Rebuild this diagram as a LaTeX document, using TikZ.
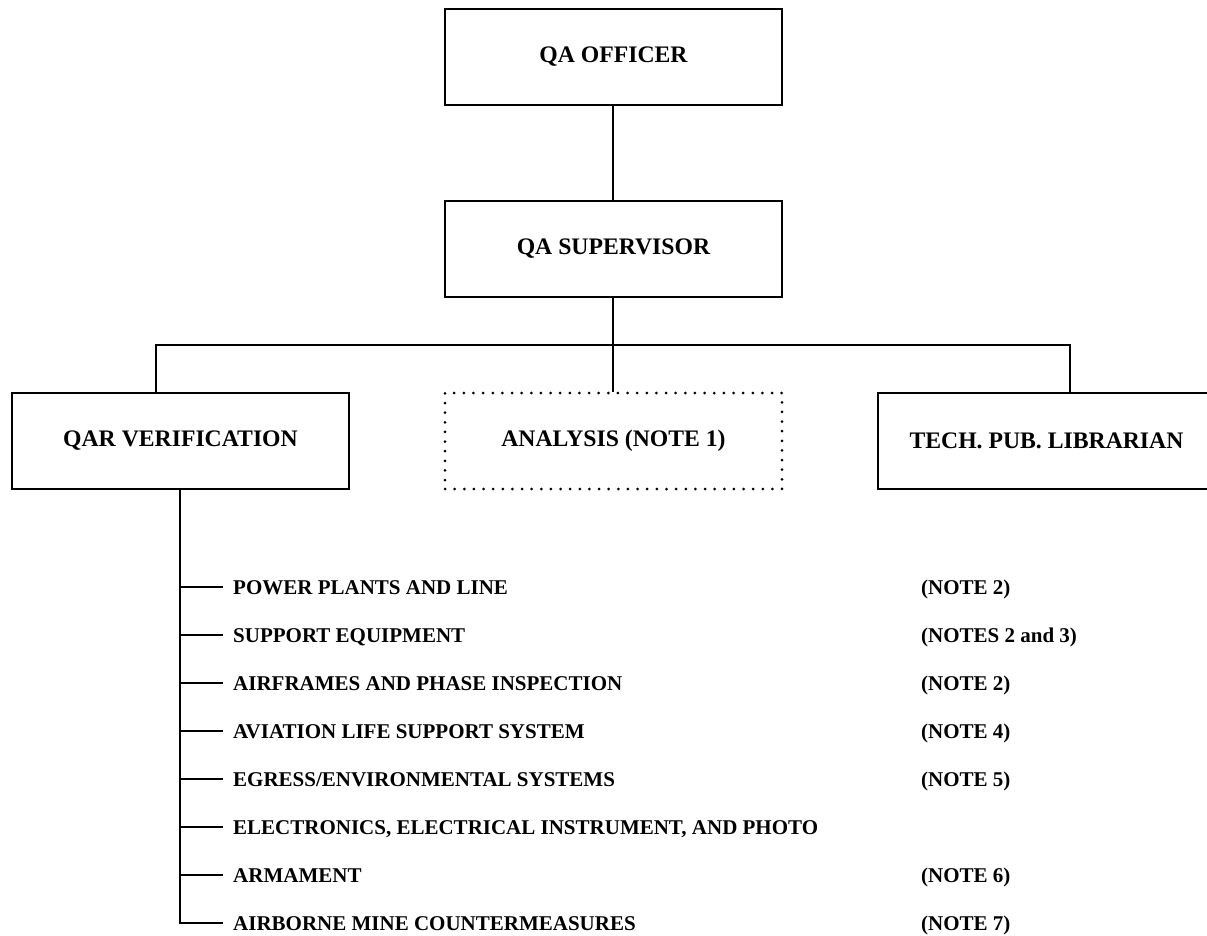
\documentclass[tikz,border=0pt]{standalone}
\usepackage{fontspec}
\setmainfont{Liberation Serif}
\begin{document}
\begin{tikzpicture}[x=1pt,y=-1pt,
  box/.style={draw, line width=1.8pt, minimum width=337pt, minimum height=96pt, inner sep=0pt,
    font=\fontsize{23.7}{28}\selectfont\bfseries},
  dotbox/.style={box, line width=3pt, dash pattern=on 0pt off 9.63pt, line cap=round},
  conn/.style={line width=1.8pt},
  item/.style={anchor=west, inner xsep=10pt, inner ysep=0pt, text height=14pt, text depth=0pt,
    font=\fontsize{21}{25}\selectfont\bfseries}]
\clip (0,0) rectangle (1207,936);
\node[box] (off) at (613.5,57) {QA OFFICER};
\node[box] (sup) at (613.5,249) {QA SUPERVISOR};
\node[box] (qar) at (180.5,441) {QAR VERIFICATION};
\node[dotbox] (ana) at (613.5,441) {ANALYSIS (NOTE 1)};
\node[box] (tech) at (1046.5,441) {TECH. PUB. LIBRARIAN};
\coordinate (bus) at (613,345);
\coordinate (bl) at (156,345);
\coordinate (br) at (1070,345);
\draw[conn] (bus |- off.south) -- (bus |- sup.north);
\draw[conn] (bus |- sup.south) -- (bus);
\draw[conn] (bl |- qar.north) -- (bl) -- (br) -- (br |- tech.north);
\draw[conn] (bus) -- (bus |- ana.north);
% list items
\node[item] (i1) at (223,587) {POWER PLANTS AND LINE};
\node[item] (i2) at (223,635) {SUPPORT EQUIPMENT};
\node[item] (i3) at (223,683) {AIRFRAMES AND PHASE INSPECTION};
\node[item] (i4) at (223,731) {AVIATION LIFE SUPPORT SYSTEM};
\node[item] (i5) at (223,779) {EGRESS/ENVIRONMENTAL SYSTEMS};
\node[item] (i6) at (223,827) {ELECTRONICS, ELECTRICAL INSTRUMENT, AND PHOTO};
\node[item] (i7) at (223,875) {ARMAMENT};
\node[item] (i8) at (223,923) {AIRBORNE MINE COUNTERMEASURES};
\node[item] (n1) at (911,587) {(NOTE 2)};
\node[item] (n2) at (911,635) {(NOTES 2 and 3)};
\node[item] (n3) at (911,683) {(NOTE 2)};
\node[item] (n4) at (911,731) {(NOTE 4)};
\node[item] (n5) at (911,779) {(NOTE 5)};
\node[item] (n7) at (911,875) {(NOTE 6)};
\node[item] (n8) at (911,923) {(NOTE 7)};
\coordinate (s1) at (180,587);
\coordinate (s2) at (180,635);
\coordinate (s3) at (180,683);
\coordinate (s4) at (180,731);
\coordinate (s5) at (180,779);
\coordinate (s6) at (180,827);
\coordinate (s7) at (180,875);
\coordinate (s8) at (180,923);
\draw[conn] (s8 |- qar.south) -- (s8) -- (i8.west);
\draw[conn] (s1) -- (i1.west);
\draw[conn] (s2) -- (i2.west);
\draw[conn] (s3) -- (i3.west);
\draw[conn] (s4) -- (i4.west);
\draw[conn] (s5) -- (i5.west);
\draw[conn] (s6) -- (i6.west);
\draw[conn] (s7) -- (i7.west);
\end{tikzpicture}
\end{document}
